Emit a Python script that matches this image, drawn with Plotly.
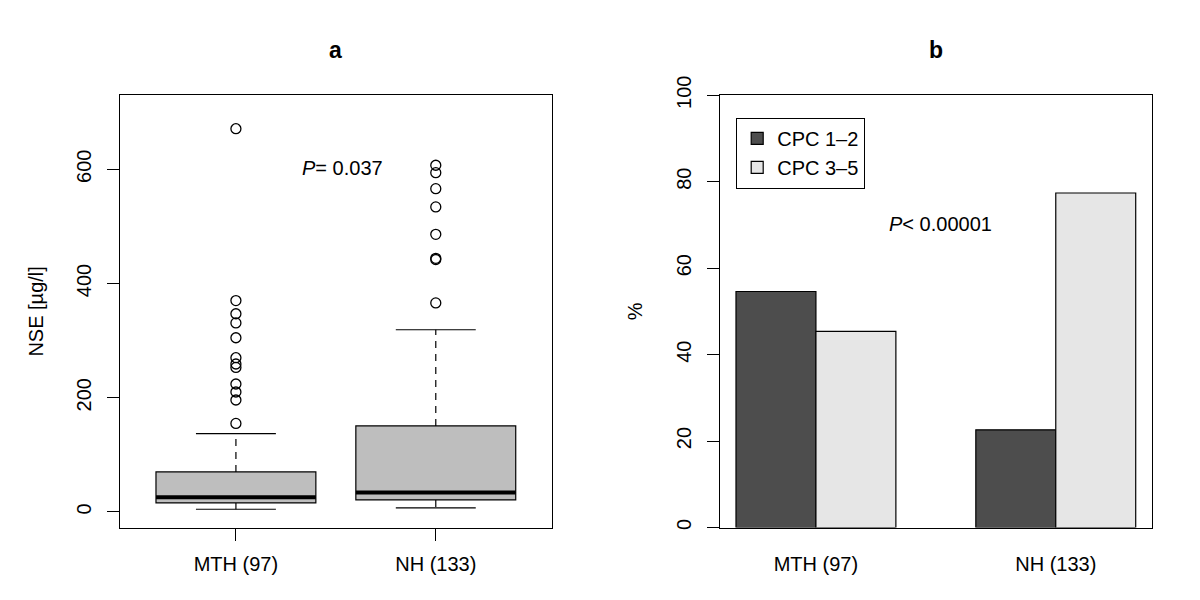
import plotly.graph_objects as go

# ---------------- data ----------------
groups = ["MTH (97)", "NH (133)"]

# panel a: NSE [µg/l] box-plot statistics
nse_q1 = [15.8, 21.0]
nse_median = [25.7, 34.0]
nse_q3 = [70.0, 150.6]
nse_whisker_lo = [4.7, 7.0]
nse_whisker_hi = [137.0, 319.0]
nse_outliers = [
    [671, 370, 347, 331, 305, 270, 259, 253, 224, 210, 196, 155],
    [607, 594, 566, 534, 486, 444, 442, 366],
]

# panel b: CPC percentages
cpc_series = ["CPC 1\u20132", "CPC 3\u20135"]
cpc_values = [
    [54.6, 22.6],   # CPC 1-2
    [45.4, 77.4],   # CPC 3-5
]
cpc_colors = ["#4D4D4D", "#E6E6E6"]

p_text_a = "<i>P</i>= 0.037"
p_text_b = "<i>P</i>&lt; 0.00001"

FONT = "Liberation Sans, Arial, Helvetica, sans-serif"
FS = 20
LW = 1.2

# page body has an 8px margin: figure is drawn at (8, 8)
OFF = 8
W, H = 1200 - 2 * OFF, 600 - 2 * OFF


def fx(px):
    return (px - OFF) / W


def fy(py):
    return 1 - (py - OFF) / H


fig = go.Figure()

# ---------------- panel a ----------------
box_pos = [i + 1 for i in range(len(groups))]
box_w = 0.8
for i, pos in enumerate(box_pos):
    fig.add_trace(go.Box(
        x=[pos], q1=[nse_q1[i]], median=[nse_median[i]], q3=[nse_q3[i]],
        lowerfence=[nse_q1[i]], upperfence=[nse_q3[i]],
        width=box_w, whiskerwidth=0, boxpoints=False,
        fillcolor="#BEBEBE", line=dict(color="black", width=LW),
        xaxis="x", yaxis="y", showlegend=False, hoverinfo="skip",
    ))
    # whiskers (dashed)
    fig.add_trace(go.Scatter(
        x=[pos, pos], y=[nse_q3[i], nse_whisker_hi[i]], mode="lines",
        line=dict(color="black", width=LW, dash="7px,6px"),
        xaxis="x", yaxis="y", showlegend=False, hoverinfo="skip"))
    fig.add_trace(go.Scatter(
        x=[pos, pos], y=[nse_q1[i], nse_whisker_lo[i]], mode="lines",
        line=dict(color="black", width=LW, dash="7px,6px"),
        xaxis="x", yaxis="y", showlegend=False, hoverinfo="skip"))
    # staples
    for v in (nse_whisker_hi[i], nse_whisker_lo[i]):
        fig.add_trace(go.Scatter(
            x=[pos - box_w / 4, pos + box_w / 4], y=[v, v], mode="lines",
            line=dict(color="black", width=LW),
            xaxis="x", yaxis="y", showlegend=False, hoverinfo="skip"))
    # median (thick)
    fig.add_trace(go.Scatter(
        x=[pos - box_w / 2, pos + box_w / 2], y=[nse_median[i]] * 2, mode="lines",
        line=dict(color="black", width=4),
        xaxis="x", yaxis="y", showlegend=False, hoverinfo="skip"))
    # outliers
    fig.add_trace(go.Scatter(
        x=[pos] * len(nse_outliers[i]), y=nse_outliers[i], mode="markers",
        marker=dict(symbol="circle-open", size=10, color="black",
                    line=dict(width=1.3, color="black")),
        xaxis="x", yaxis="y", showlegend=False, hoverinfo="skip"))

# ---------------- panel b ----------------
bar_pos = [1.2, 4.2]
for s, name in enumerate(cpc_series):
    fig.add_trace(go.Bar(
        x=bar_pos, y=cpc_values[s], name=name,
        marker=dict(color=cpc_colors[s], line=dict(color="black", width=LW)),
        xaxis="x2", yaxis="y2", hoverinfo="skip",
    ))

ydom = [fy(527.5), fy(95.3)]
axis_common = dict(showline=True, linecolor="black", linewidth=LW, mirror=True,
                   showgrid=False, zeroline=False, automargin=False,
                   tickfont=dict(family=FONT, size=FS, color="black"))

fig.update_layout(
    width=W, height=H,
    margin=dict(l=0, r=0, t=0, b=0),
    paper_bgcolor="white", plot_bgcolor="white",
    font=dict(family=FONT, size=FS, color="black"),
    barmode="group", bargap=1 / 3, bargroupgap=0,
    xaxis=dict(domain=[fx(120), fx(551.7)], range=[0.42, 2.58],
               tickvals=box_pos, ticktext=groups, ticks="outside",
               ticklen=12, tickcolor="black", tickwidth=LW,
               ticklabelstandoff=6, anchor="y", **axis_common),
    yaxis=dict(domain=ydom, range=[-27.3, 729.5], tickvals=[0, 200, 400, 600],
               ticks="outside", ticklen=12, tickcolor="black", tickwidth=LW,
               tickangle=-90, ticklabelstandoff=8, anchor="x",
               title=dict(text="NSE [µg/l]", standoff=23,
                          font=dict(family=FONT, size=FS, color="black")),
               **axis_common),
    xaxis2=dict(domain=[fx(720), fx(1151.7)], range=[0, 5.4],
                tickvals=bar_pos, ticktext=groups, ticks="",
                ticklabelstandoff=18, anchor="y2", **axis_common),
    yaxis2=dict(domain=ydom, range=[0, 100], tickvals=[0, 20, 40, 60, 80, 100],
                ticks="outside", ticklen=12, tickcolor="black", tickwidth=LW,
                tickangle=-90, ticklabelstandoff=8, anchor="x2",
                title=dict(text="%", standoff=24,
                           font=dict(family=FONT, size=FS, color="black")),
                **axis_common),
    legend=dict(x=fx(736), y=fy(117.7), xanchor="left", yanchor="top",
                bordercolor="black", borderwidth=LW, bgcolor="white",
                font=dict(family=FONT, size=FS, color="black"),
                tracegroupgap=0),
    showlegend=True,
)

fig.add_annotation(x=1.533, y=602, xref="x", yref="y", text=p_text_a,
                   showarrow=False, font=dict(family=FONT, size=FS, color="black"))
fig.add_annotation(x=2.76, y=70.3, xref="x2", yref="y2", text=p_text_b,
                   showarrow=False, font=dict(family=FONT, size=FS, color="black"))
fig.add_annotation(x=fx((120 + 551.7) / 2), y=fy(50), xref="paper", yref="paper",
                   xanchor="center", yanchor="middle",
                   text="<b>a</b>", showarrow=False,
                   font=dict(family=FONT, size=23, color="black"))
fig.add_annotation(x=fx((720 + 1151.7) / 2), y=fy(50), xref="paper", yref="paper",
                   xanchor="center", yanchor="middle",
                   text="<b>b</b>", showarrow=False,
                   font=dict(family=FONT, size=23, color="black"))

fig.write_html("out.html")
